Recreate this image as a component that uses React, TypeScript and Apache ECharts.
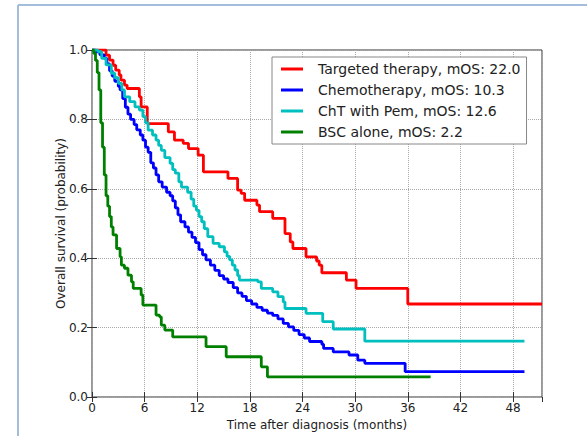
import React, { useEffect, useRef } from "react";
import * as echarts from "echarts";

const seriesNames = [
  "Targeted therapy, mOS: 22.0",
  "Chemotherapy, mOS: 10.3",
  "ChT with Pem, mOS: 12.6",
  "BSC alone, mOS: 2.2",
];
const seriesColors = ["#ff0000", "#0000ff", "#00bfbf", "#008000"];

const xAxisTitle = "Time after diagnosis (months)";
const yAxisTitle = "Overall survival (probability)";
const xMin = 0;
const xMax = 51.3;
const xStep = 6;
const yMin = 0;
const yMax = 1;
const yStep = 0.2;

// Targeted therapy: time (months) at which survival drops, survival after drop
const targetedTime = [0, 1.6, 2.0, 2.4, 2.7, 3.1, 3.3, 3.7, 4.0, 5.4, 5.6, 6.3, 8.7, 9.4, 10.4, 11.0, 12.1, 12.7, 15.5, 16.6, 17.0, 17.4, 18.8, 19.1, 20.6, 22.0, 22.6, 22.9, 24.4, 25.6, 25.9, 26.2, 29.0, 30.1, 36.0, 51.3];
const targetedSurv = [1.0, 0.985, 0.971, 0.956, 0.942, 0.928, 0.913, 0.899, 0.889, 0.865, 0.836, 0.788, 0.764, 0.74, 0.731, 0.716, 0.697, 0.649, 0.63, 0.596, 0.587, 0.567, 0.553, 0.534, 0.515, 0.471, 0.447, 0.428, 0.404, 0.392, 0.38, 0.358, 0.337, 0.313, 0.268, 0.268];

// Chemotherapy
const chemoTime = [0, 0.4, 0.9, 1.4, 1.7, 2.0, 2.3, 2.6, 3.0, 3.2, 3.5, 3.8, 4.1, 4.4, 4.8, 5.1, 5.5, 5.8, 6.1, 6.4, 6.7, 7.0, 7.3, 7.6, 8.0, 8.5, 8.9, 9.2, 9.5, 9.8, 10.1, 10.6, 11.0, 11.4, 11.8, 12.2, 12.6, 13.0, 13.5, 14.0, 14.5, 15.0, 15.5, 16.1, 16.6, 17.1, 17.6, 18.2, 18.8, 19.4, 20.0, 20.6, 21.2, 21.8, 22.4, 23.0, 23.6, 24.2, 24.8, 26.2, 26.4, 27.5, 29.3, 30.3, 31.1, 35.7, 49.3];
const chemoSurv = [1.0, 0.995, 0.986, 0.976, 0.96, 0.94, 0.925, 0.91, 0.895, 0.885, 0.86, 0.835, 0.815, 0.8, 0.785, 0.77, 0.755, 0.74, 0.72, 0.705, 0.675, 0.66, 0.64, 0.62, 0.605, 0.59, 0.58, 0.565, 0.545, 0.525, 0.505, 0.49, 0.475, 0.46, 0.445, 0.425, 0.41, 0.395, 0.38, 0.365, 0.35, 0.34, 0.33, 0.315, 0.3, 0.29, 0.278, 0.268, 0.258, 0.25, 0.242, 0.235, 0.225, 0.212, 0.202, 0.192, 0.18, 0.17, 0.16, 0.152, 0.14, 0.13, 0.121, 0.106, 0.097, 0.073, 0.073];

// ChT with Pem
const pemTime = [0, 0.7, 1.1, 1.6, 2.2, 2.6, 3.0, 3.4, 3.7, 4.3, 4.9, 5.4, 5.8, 6.1, 6.4, 6.9, 7.3, 7.6, 7.9, 8.3, 8.9, 9.2, 9.5, 9.9, 10.2, 10.9, 11.3, 11.6, 11.9, 12.2, 12.5, 12.8, 13.2, 13.8, 14.5, 15.1, 15.4, 15.7, 16.0, 16.3, 16.6, 16.8, 18.9, 19.3, 20.6, 21.2, 21.8, 22.0, 24.4, 26.3, 27.5, 31.1, 49.3];
const pemSurv = [1.0, 0.995, 0.976, 0.957, 0.933, 0.92, 0.904, 0.885, 0.865, 0.851, 0.836, 0.827, 0.808, 0.79, 0.769, 0.755, 0.74, 0.725, 0.711, 0.69, 0.673, 0.655, 0.645, 0.62, 0.605, 0.59, 0.57, 0.55, 0.538, 0.52, 0.505, 0.485, 0.462, 0.443, 0.433, 0.418, 0.405, 0.395, 0.38, 0.366, 0.35, 0.337, 0.332, 0.313, 0.303, 0.289, 0.274, 0.255, 0.241, 0.217, 0.196, 0.161, 0.161];

// BSC alone
const bscTime = [0, 0.2, 0.4, 0.6, 0.8, 1.0, 1.2, 1.4, 1.6, 1.8, 2.0, 2.2, 2.4, 2.8, 3.2, 3.35, 3.7, 4.1, 4.5, 4.7, 5.6, 5.8, 7.3, 7.7, 7.9, 8.3, 9.2, 13.0, 15.3, 19.3, 20.0, 38.6];
const bscSurv = [1.0, 0.99, 0.97, 0.935, 0.885, 0.79, 0.72, 0.64, 0.58, 0.55, 0.52, 0.49, 0.467, 0.428, 0.404, 0.38, 0.371, 0.351, 0.332, 0.313, 0.294, 0.265, 0.236, 0.231, 0.207, 0.193, 0.173, 0.145, 0.116, 0.087, 0.058, 0.058];

const curveTimes = [targetedTime, chemoTime, pemTime, bscTime];
const curveSurvs = [targetedSurv, chemoSurv, pemSurv, bscSurv];

const FONT = "DejaVu Sans";

export default function App() {
  const ref = useRef<HTMLDivElement>(null);

  useEffect(() => {
    if (!ref.current) return;
    const chart = echarts.init(ref.current, undefined, { renderer: "svg" });

    const series = seriesNames.map((name, i) => ({
      name,
      type: "line",
      step: "end",
      symbol: "none",
      xAxisIndex: 0,
      yAxisIndex: 0,
      data: curveTimes[i].map((t, j) => [t, curveSurvs[i][j]]),
      lineStyle: { color: seriesColors[i], width: 2.8 },
      itemStyle: { color: seriesColors[i] },
      clip: true,
      z: 3 + i,
    }));

    const baseX = {
      type: "value",
      min: xMin,
      max: xMax,
      interval: xStep,
      axisLine: { show: false },
    };
    const baseY = {
      type: "value",
      min: yMin,
      max: yMax,
      interval: yStep,
      axisLine: { show: false },
    };

    chart.setOption({
      animation: false,
      backgroundColor: "#ffffff",
      textStyle: { fontFamily: FONT },
      grid: {
        left: 92,
        right: 45,
        top: 50,
        bottom: 39,
        show: true,
        borderColor: "#333333",
        borderWidth: 1,
        backgroundColor: "transparent",
      },
      graphic: [
        {
          type: "line",
          shape: { x1: 18, y1: 5, x2: 18, y2: 436 },
          style: { stroke: "#a3bddb", lineWidth: 2 },
          silent: true,
        },
        {
          type: "line",
          shape: { x1: 18, y1: 5, x2: 587, y2: 5 },
          style: { stroke: "#a3bddb", lineWidth: 2 },
          silent: true,
        },
        {
          type: "text",
          x: 61,
          y: 223.5,
          rotation: Math.PI / 2,
          silent: true,
          style: {
            text: yAxisTitle,
            fontFamily: FONT,
            fontSize: 12,
            fill: "#222222",
            align: "center",
            verticalAlign: "middle",
          },
        },
      ],
      legend: {
        orient: "vertical",
        left: 272,
        top: 57,
        padding: [5, 6, 5, 9],
        itemGap: 7,
        itemWidth: 22,
        itemHeight: 3,
        icon: "rect",
        borderColor: "#888888",
        borderWidth: 1,
        backgroundColor: "#ffffff",
        textStyle: {
          fontFamily: FONT,
          fontSize: 14,
          color: "#222222",
          padding: [0, 0, 0, 10],
        },
        data: seriesNames,
      },
      xAxis: [
        {
          ...baseX,
          position: "bottom",
          name: xAxisTitle,
          nameLocation: "middle",
          nameGap: 19,
          nameTextStyle: { fontFamily: FONT, fontSize: 12, color: "#222222" },
          axisTick: { show: true, inside: true, length: 5, lineStyle: { color: "#333333" } },
          axisLabel: {
            show: true,
            margin: 5,
            fontFamily: FONT,
            fontSize: 12,
            color: "#222222",
            showMaxLabel: false,
          },
          splitLine: { show: true, lineStyle: { color: "#a8a8a8", type: "dotted", width: 1 } },
        },
        {
          ...baseX,
          position: "top",
          axisTick: { show: true, inside: true, length: 5, lineStyle: { color: "#333333" } },
          axisLabel: { show: false },
          splitLine: { show: false },
        },
      ],
      yAxis: [
        {
          ...baseY,
          position: "left",
          axisTick: { show: true, inside: true, length: 5, lineStyle: { color: "#333333" } },
          axisLabel: {
            show: true,
            margin: 4,
            fontFamily: FONT,
            fontSize: 12,
            color: "#222222",
            formatter: (v: number) => v.toFixed(1),
          },
          splitLine: { show: true, lineStyle: { color: "#a8a8a8", type: "dotted", width: 1 } },
        },
        {
          ...baseY,
          position: "right",
          axisTick: { show: true, inside: true, length: 5, lineStyle: { color: "#333333" } },
          axisLabel: { show: false },
          splitLine: { show: false },
        },
      ],
      series,
    });

    return () => chart.dispose();
  }, []);

  return (
    <div
      ref={ref}
      style={{ position: "fixed", left: 0, top: 0, width: 587, height: 436 }}
    />
  );
}
